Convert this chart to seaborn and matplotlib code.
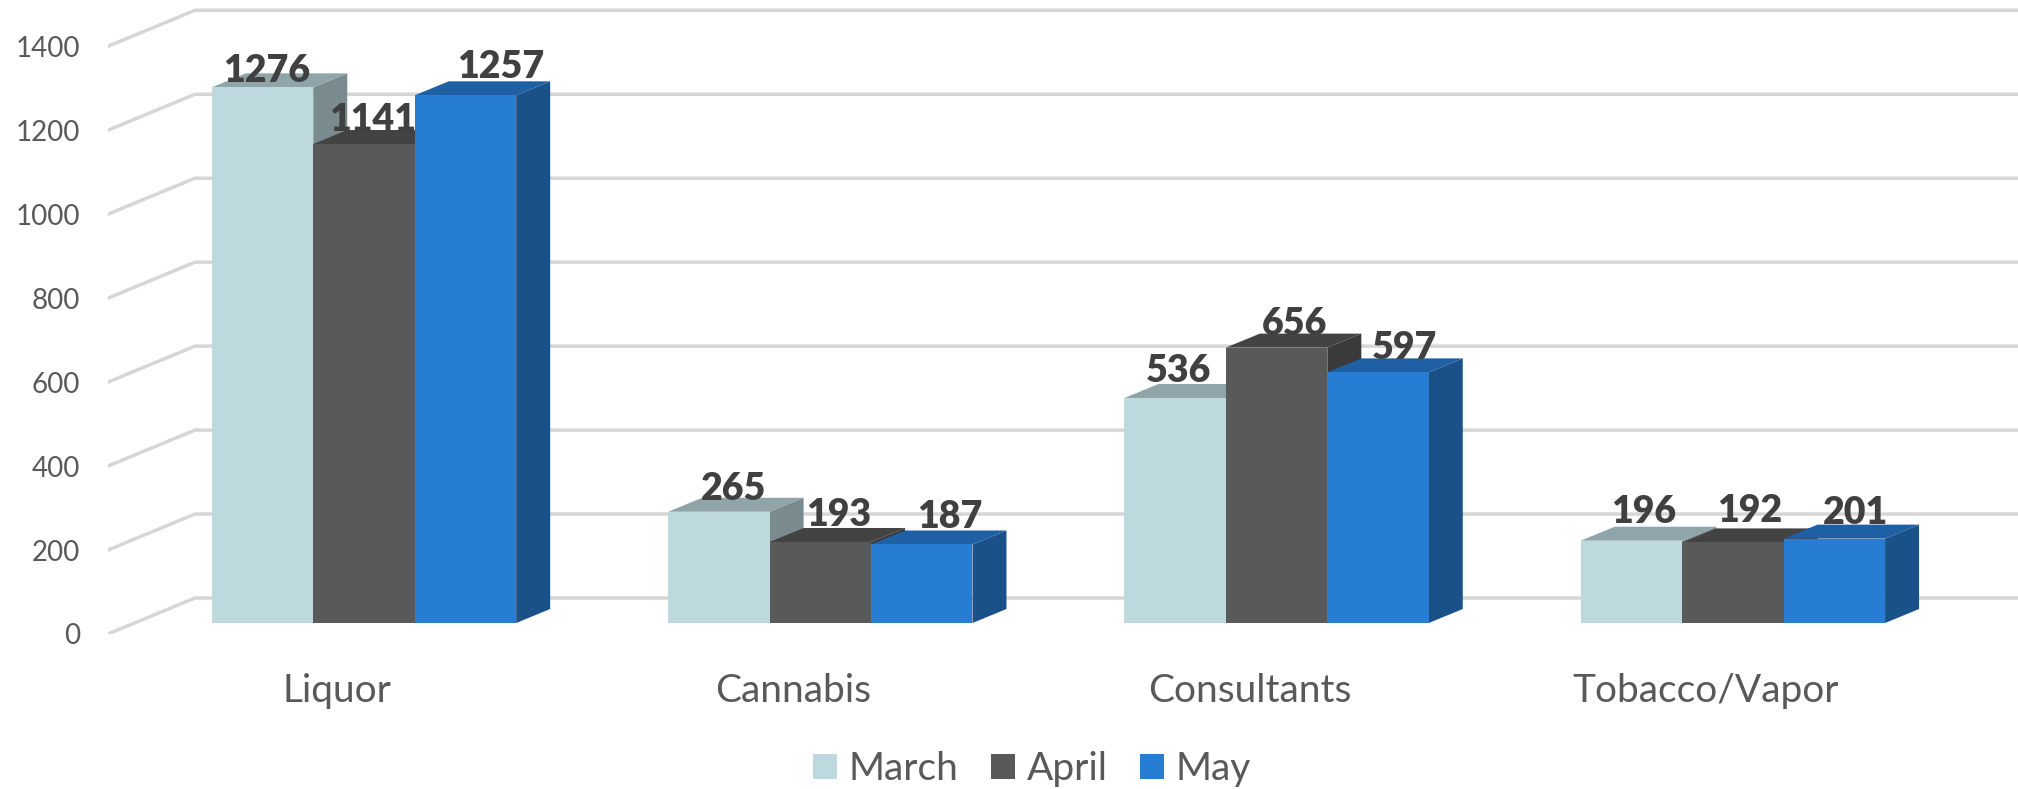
import numpy as np
import pandas as pd
import matplotlib.pyplot as plt
import seaborn as sns
from matplotlib.patches import Polygon

categories = ['Liquor', 'Cannabis', 'Consultants', 'Tobacco/Vapor']
months = ['March', 'April', 'May']
march = [1276, 265, 536, 196]
april = [1141, 193, 656, 192]
may = [1257, 187, 597, 201]
y_ticks = [0, 200, 400, 600, 800, 1000, 1200, 1400]

front_colors = ['#BDD9DD', '#595959', '#277DD4']
top_colors = ['#8FA5A9', '#434343', '#1F5FA3']
side_colors = ['#7A8B8F', '#3A3A3A', '#1A5188']

# scale of the picture, pixels per category and per unit
W, H = 2018, 789
px_x = 456.3
px_y = 0.4198
left_px, base_px, wall_px = 108, 623, 634

# hand placed data labels in the original, nudges in pixels from bar centre / top
label_dx = {'March': [4, 15, 3, 12], 'April': [9, 18, 18, 17], 'May': [35, 28, 26, 21]}
label_dy = {'March': [5, 12, 16, 18], 'April': [13, 16, 13, 20], 'May': [17, 16, 13, 15]}

df = pd.DataFrame({
    'category': categories * 3,
    'month': np.repeat(months, 4),
    'value': march + april + may,
})

sns.set_theme(style='white')
plt.rcParams['font.family'] = ['Lato', 'DejaVu Sans']

fig = plt.figure(figsize=(W / 100, H / 100), dpi=100)
ax = fig.add_axes([left_px / W, (H - wall_px) / H, (W - left_px) / W, wall_px / H])
sns.barplot(data=df, x='category', y='value', hue='month', order=categories, hue_order=months,
            palette=front_colors, width=0.667, gap=0, saturation=1, linewidth=0, legend=False, ax=ax)

ax.set_xlim((left_px - 364) / px_x, (W - 364) / px_x)
ax.set_ylim((base_px - wall_px) / px_y, base_px / px_y)

# 3d look: depth of the bars and of the chart wall
depth_x, depth_y = 34 / px_x, 14 / px_y
wall_dx = 87 / px_x
front_off = (base_px - wall_px) / px_y
back_off = (base_px - 598) / px_y
x_left, x_right = ax.get_xlim()

for v in y_ticks:
    ax.plot([x_left, x_left + wall_dx, x_right], [v + front_off, v + back_off, v + back_off],
            color='#D6D6D6', lw=2.5, zorder=1, solid_joinstyle='miter')

bars = []
for h, cont in enumerate(ax.containers):
    for i, bar in enumerate(cont):
        bars.append((bar.get_x(), h, i, bar))
bars.sort(key=lambda b: b[0])

z = 10
for x0, h, i, bar in bars:
    x1 = x0 + bar.get_width()
    top = bar.get_height()
    ax.add_patch(Polygon([(x1, 0), (x1 + depth_x, depth_y), (x1 + depth_x, top + depth_y), (x1, top)],
                         facecolor=side_colors[h], edgecolor='none', zorder=z))
    ax.add_patch(Polygon([(x0, top), (x0 + depth_x, top + depth_y), (x1 + depth_x, top + depth_y), (x1, top)],
                         facecolor=top_colors[h], edgecolor='none', zorder=z))
    bar.set_zorder(z + 1)
    z += 2
    ax.annotate(str(int(top)), xy=(x0 + bar.get_width() / 2, top),
                xytext=(label_dx[months[h]][i] * 0.72, label_dy[months[h]][i] * 0.72),
                textcoords='offset points', ha='center', va='baseline',
                fontsize=27, fontweight='heavy', color='#404040', zorder=100)

ax.set_yticks(np.array(y_ticks) + front_off)
ax.set_yticklabels(y_ticks)
ax.set_xticks(np.arange(4) - 27 / px_x)
ax.set_xticklabels(categories)
ax.tick_params(axis='y', length=0, pad=20, labelsize=20, labelcolor='#595959')
ax.tick_params(axis='x', length=0, pad=28, labelsize=28, labelcolor='#595959')
ax.set_xlabel('')
ax.set_ylabel('')
sns.despine(ax=ax, left=True, bottom=True)
ax.patch.set_visible(False)

handles = [c[0] for c in ax.containers]
fig.legend(handles, months, ncol=3, loc='center', bbox_to_anchor=(1032 / W, (H - 769) / H),
           frameon=False, fontsize=28, labelcolor='#595959', handlelength=0.62, handleheight=0.6,
           handletextpad=0.31, columnspacing=0.82, borderpad=0)

fig.savefig('out.png', dpi=100)
